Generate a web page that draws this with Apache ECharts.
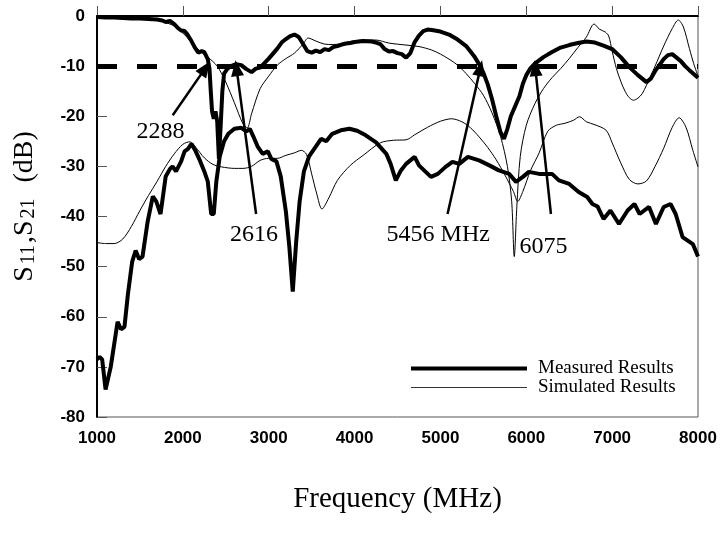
<!DOCTYPE html>
<html>
<head>
<meta charset="utf-8">
<title>S11 S21</title>
<style>
  html, body { margin: 0; padding: 0; background: #fff; }
  #chart { width: 721px; height: 534px; }
</style>
<script src="https://cdn.jsdelivr.net/npm/echarts@6/dist/echarts.min.js"></script>
</head>
<body>
<div id="chart"></div>
<script>
// measured S11
var measS11Freq = [1000,1100,1200,1300,1400,1500,1600,1700,1760,1800,1850,1900,1950,1980,2020,2050,2100,2140,2180,2220,2250,2290,2310,2325,2340,2360,2380,2400,2420,2440,2460,2480,2520,2560,2620,2680,2740,2800,2850,2900,2950,3000,3050,3100,3150,3200,3250,3300,3350,3400,3450,3500,3550,3600,3650,3700,3750,3800,3850,3900,3950,4000,4100,4200,4250,4300,4350,4400,4450,4500,4550,4600,4650,4700,4750,4800,4850,4900,5000,5100,5200,5300,5400,5450,5500,5550,5600,5650,5700,5740,5780,5820,5870,5920,5960,6000,6050,6100,6200,6300,6400,6500,6600,6700,6800,6900,7000,7100,7200,7300,7400,7450,7500,7600,7650,7700,7750,7800,7850,7900,8000];
var measS11dB = [-0.2,-0.3,-0.3,-0.4,-0.5,-0.5,-0.6,-0.7,-0.9,-1.2,-1.0,-1.6,-2.5,-2.9,-3.0,-3.6,-5.0,-6.3,-7.3,-7.0,-7.2,-8.6,-10.5,-15,-19,-20.5,-19,-21,-28.5,-22,-15,-11.5,-10.5,-10.0,-9.6,-9.8,-10.6,-11.2,-10.5,-10.3,-9.4,-8.5,-7.5,-6.5,-5.3,-4.6,-4.0,-3.7,-4.2,-5.6,-7.0,-7.3,-6.9,-7.2,-6.6,-6.8,-6.2,-6.0,-5.7,-5.5,-5.4,-5.2,-5.0,-5.1,-5.3,-5.6,-6.6,-7.1,-7.0,-7.4,-7.6,-8.3,-7.4,-5.2,-3.9,-3.0,-2.7,-2.8,-3.1,-3.7,-4.7,-6.0,-8.2,-9.6,-11.3,-13.6,-16.5,-20,-23.2,-24.5,-22.5,-20,-18,-16,-13.5,-11.8,-10.4,-9.5,-8.2,-7.2,-6.3,-5.8,-5.4,-5.1,-5.3,-5.9,-6.6,-8.2,-10.2,-11.8,-13.2,-12.5,-11,-8.6,-7.8,-7.6,-8.3,-9.0,-10,-10.8,-12.3];

// measured S21
var measS21Freq = [1000,1030,1060,1100,1160,1240,1280,1320,1360,1410,1450,1490,1530,1590,1650,1690,1740,1800,1850,1880,1920,1980,2020,2060,2100,2150,2190,2250,2290,2330,2360,2390,2430,2480,2530,2600,2680,2740,2780,2820,2870,2930,2990,3030,3090,3140,3200,3240,3280,3320,3360,3410,3470,3550,3610,3670,3740,3840,3940,4030,4130,4250,4370,4420,4480,4540,4600,4700,4750,4810,4890,4970,5060,5140,5220,5320,5450,5570,5680,5800,5880,5960,6030,6150,6300,6380,6500,6610,6710,6770,6830,6900,6980,7080,7180,7260,7320,7430,7510,7600,7680,7740,7820,7880,7940,8000];
var measS21dB = [-68.5,-68,-68.5,-74.5,-70,-61,-62.5,-62,-55.5,-49,-46.8,-48.5,-48,-41,-36,-37,-39.5,-32,-30.5,-30,-31,-29,-27,-26.5,-25.5,-27,-28.5,-31,-33,-39.5,-39.5,-33,-28,-25,-23.5,-22.5,-22.3,-23,-22.5,-24,-26,-27.5,-27,-28.5,-29,-32,-39,-46,-55,-45,-37,-31,-28,-26,-24.5,-25,-23.5,-22.8,-22.5,-22.9,-23.8,-25.2,-27.5,-29.5,-32.8,-30.8,-29.5,-28.1,-29.8,-30.8,-32.1,-31.5,-30.1,-29.1,-29.5,-28.1,-28.8,-29.8,-30.8,-31.5,-33.1,-32.1,-31.1,-31.5,-31.5,-32.8,-33.5,-35.1,-36.1,-37.5,-38,-40.5,-38.8,-41.5,-38.8,-37.5,-39.5,-38.1,-41.5,-38.1,-37.5,-39.5,-44.1,-44.8,-45.5,-48];

// simulated S11
var simS11Freq = [1000,1200,1400,1600,1700,1800,1900,2000,2100,2200,2290,2400,2500,2600,2700,2750,2800,2900,3000,3100,3200,3300,3400,3460,3550,3650,3750,3850,3950,4100,4250,4400,4600,4750,4900,5000,5100,5200,5300,5400,5500,5600,5700,5780,5830,5860,5890,5930,6000,6100,6200,6300,6400,6500,6600,6700,6790,6850,6920,6960,7000,7050,7100,7150,7200,7250,7300,7350,7400,7500,7600,7700,7770,7830,7900,7950,8000];
var simS11dB = [0,-0.2,-0.3,-0.4,-0.7,-1.3,-2.0,-3.4,-5.2,-7.0,-8.2,-10.0,-13.2,-17.3,-21.5,-22.3,-19.5,-14.5,-12,-9.8,-8.5,-7.4,-5.6,-4.4,-5.0,-5.6,-5.7,-5.5,-5.1,-4.8,-4.8,-5.4,-5.8,-6.1,-6.8,-7.6,-8.6,-9.8,-11.5,-13.5,-15.8,-19.3,-24,-30,-37,-48,-38,-28,-21.8,-17.5,-14.5,-12.3,-10.5,-8.5,-6.3,-4.2,-1.6,-2.6,-3.2,-4,-7,-10.5,-13,-15,-16.3,-16.8,-16.4,-15.5,-13.8,-10,-6,-2.5,-0.8,-2.2,-6.5,-9.5,-12];

// simulated S21
var simS21Freq = [1000,1100,1200,1300,1400,1500,1600,1700,1800,1900,2000,2080,2150,2250,2350,2450,2600,2700,2800,2900,3000,3100,3200,3300,3380,3440,3500,3560,3620,3700,3800,3950,4100,4300,4450,4600,4700,4850,5000,5130,5250,5350,5450,5550,5650,5750,5850,5900,5960,6050,6150,6250,6350,6450,6550,6620,6700,6800,6930,7000,7100,7200,7300,7400,7500,7600,7700,7780,7860,7940,8000];
var simS21dB = [-45.2,-45.4,-45.4,-44.5,-42,-38.8,-35.8,-33,-30,-27.5,-25.6,-25.1,-26.2,-28.3,-29.6,-30.1,-30.4,-30.4,-30,-28.8,-28.4,-28.4,-27.8,-27.3,-26.8,-27.6,-31.5,-35.5,-38.5,-36.3,-32.8,-29.8,-27.8,-25.3,-24.8,-24.7,-23.7,-22.2,-21,-20.5,-21.1,-22.3,-24.1,-26.2,-28.7,-31.7,-35,-37,-35,-30.8,-27.3,-23,-21.8,-21.4,-20.8,-20.1,-21.1,-21.7,-22.8,-25.3,-29.3,-32.6,-33.5,-32.9,-30,-26.4,-22.2,-20.3,-22.2,-26.8,-30.1];

// annotations: label text, label position, arrow tail, arrow tip
var noteText = ['2288', '2616', '5456 MHz', '6075'];
var noteAt = [[1740, -23], [2830, -43.6], [4975, -43.6], [6200, -46]];
var arrowFrom = [[1882, -19.8], [2853, -39.5], [5083, -39.5], [6287, -39.5]];
var arrowTo = [[2262, -10.4], [2625, -10.4], [5465, -10.4], [6105, -10.4]];

var threshold = -10;

function pairs(xs, ys) {
  var out = [];
  for (var i = 0; i < xs.length; i++) out.push([xs[i], ys[i]]);
  return out;
}

var serifFont = '"Liberation Serif", "Times New Roman", serif';
var sansFont = '"Liberation Sans", Arial, sans-serif';

var chart = echarts.init(document.getElementById('chart'));

var noteData = [];
var arrowData = [];
for (var i = 0; i < noteText.length; i++) {
  noteData.push([noteAt[i][0], noteAt[i][1], noteText[i]]);
  arrowData.push([{ coord: arrowFrom[i] }, { coord: arrowTo[i] }]);
}

var option = {
  backgroundColor: '#fff',
  animation: false,
  grid: {
    left: 97, right: 23, top: 16, bottom: 117,
    show: true, borderColor: '#555', borderWidth: 1
  },
  legend: {
    data: [
      { name: 'Measured Results', icon: 'path://M0,0H116V4H0Z', itemStyle: { color: '#000' } },
      { name: 'Simulated Results', icon: 'path://M0,0H116V1H0Z', itemStyle: { color: '#333' } }
    ],
    orient: 'vertical',
    left: 406,
    top: 354,
    itemWidth: 116,
    itemHeight: 14,
    itemGap: 0,
    symbolKeepAspect: true,
    textStyle: { fontFamily: serifFont, fontSize: 19, lineHeight: 19, color: '#000', padding: [0, 0, 0, 6] }
  },
  xAxis: {
    type: 'value', min: 1000, max: 8000, interval: 1000,
    name: 'Frequency (MHz)', nameLocation: 'middle', nameGap: 68,
    nameTextStyle: { fontFamily: serifFont, fontSize: 29, color: '#000' },
    axisLine: { lineStyle: { color: '#000', width: 2 } },
    axisTick: { inside: true, length: 10, lineStyle: { color: '#555', width: 1 } },
    axisLabel: {
      margin: 13, fontFamily: sansFont, fontWeight: 'bold', fontSize: 17, color: '#000',
      formatter: function (v) { return String(v); }
    },
    splitLine: { show: false }
  },
  yAxis: {
    type: 'value', min: -80, max: 0, interval: 10,
    name: 'S{sub|11},S{sub|21}  (dB)', nameLocation: 'middle', nameGap: 58,
    nameTextStyle: {
      fontFamily: serifFont, fontSize: 28, color: '#000', padding: [0, 0, 0, 20],
      rich: { sub: { fontFamily: serifFont, fontSize: 20, color: '#000', verticalAlign: 'bottom', padding: [0, 2, 0, 2] } }
    },
    axisLine: { show: true, lineStyle: { color: '#000', width: 2 } },
    axisTick: { show: true, inside: true, length: 10, lineStyle: { color: '#555', width: 1 } },
    axisLabel: { margin: 12, fontFamily: sansFont, fontWeight: 'bold', fontSize: 17, color: '#000' },
    splitLine: { show: false }
  },
  series: [
    {
      name: 'Measured Results', type: 'line', symbol: 'none',
      data: pairs(measS11Freq, measS11dB),
      lineStyle: { color: '#000', width: 4 }, itemStyle: { color: '#000' },
      markLine: {
        silent: true, symbol: 'none', label: { show: false },
        lineStyle: { color: '#000', width: 5, type: [20, 20] },
        data: [{ yAxis: threshold }]
      },
      z: 3
    },
    {
      name: 'Measured Results', type: 'line', symbol: 'none',
      data: pairs(measS21Freq, measS21dB),
      lineStyle: { color: '#000', width: 4 }, itemStyle: { color: '#000' },
      z: 3
    },
    {
      name: 'Simulated Results', type: 'line', symbol: 'none', smooth: 0.3,
      data: pairs(simS11Freq, simS11dB),
      lineStyle: { color: '#000', width: 1 }, itemStyle: { color: '#000' },
      z: 2
    },
    {
      name: 'Simulated Results', type: 'line', symbol: 'none', smooth: 0.3,
      data: pairs(simS21Freq, simS21dB),
      lineStyle: { color: '#000', width: 1 }, itemStyle: { color: '#000' },
      z: 2
    },
    {
      name: 'notes', type: 'scatter', symbolSize: 0, silent: true,
      itemStyle: { color: '#000', opacity: 1 },
      data: noteData,
      label: {
        show: true, position: [0, 0], align: 'center', verticalAlign: 'middle',
        color: '#000', opacity: 1, fontFamily: serifFont, fontSize: 24,
        formatter: function (p) { return p.value[2]; }
      },
      markLine: {
        silent: true, symbol: ['none', 'triangle'], symbolSize: [13, 16],
        label: { show: false },
        lineStyle: { color: '#000', width: 2.5, type: 'solid', opacity: 1 },
        data: arrowData
      },
      z: 4
    }
  ]
};

chart.setOption(option);
</script>
</body>
</html>
